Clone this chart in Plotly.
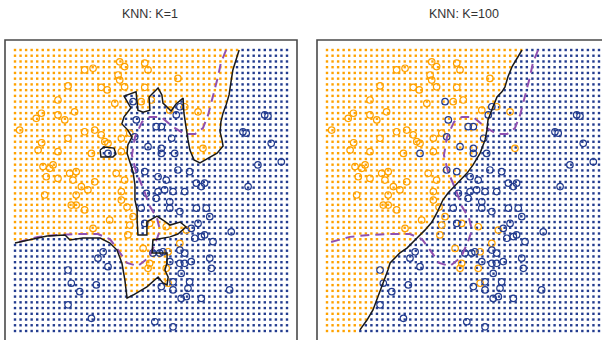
import numpy as np
import plotly.graph_objects as go

# ---------------- data (X1, X2 in arbitrary 0..10 units) ----------------
# evaluation grid of the classifiers (50 x 50 points)
grid_ticks = np.linspace(0, 10, 50)

orange_x1 = [3.85, 4.77, 2.56, 2.87, 4.03, 4.89, 3.79, 3.85, 5.99, 1.95, 3.17, 3.39, 4.03, 4.77,
             1.58, 3.67, 4.64, 5.01, 6.24, 5.69, 2.19, 0.97, 1.58, 0.78, 1.83, 0.17, 2.56, 2.93,
             3.17, 1.95, 3.30, 3.42, 3.91, 0.85, 0.98, 1.58, 2.81, 3.91, 1.03, 1.28, 1.40, 2.01,
             2.25, 3.72, 1.15, 1.58, 2.13, 2.93, 4.03, 2.44, 2.68, 3.91, 1.09, 2.25, 3.91, 2.07,
             2.25, 2.56, 3.48, 4.34, 6.91, 5.56, 6.73, 4.22, 2.87, 4.15, 4.22, 4.95, 6.30, 6.06,
             4.71, 5.63, 4.95, 4.89, 5.56, 5.63, 4.12]
orange_x2 = [9.58, 9.53, 9.29, 9.35, 9.41, 9.29, 9.11, 8.93, 8.99, 8.72, 8.67, 8.58, 8.69, 8.67,
             8.22, 8.10, 8.16, 8.22, 7.98, 7.86, 7.80, 7.75, 7.69, 7.57, 7.51, 7.15, 7.09, 7.15,
             6.98, 6.86, 6.74, 6.68, 6.86, 6.44, 6.70, 6.38, 6.32, 6.38, 5.85, 5.79, 5.91, 5.61,
             5.67, 5.61, 5.49, 5.43, 5.37, 5.31, 5.37, 5.14, 5.02, 4.96, 4.84, 4.84, 4.66, 4.48,
             4.48, 4.31, 3.95, 4.07, 6.50, 3.71, 7.80, 7.04, 3.65, 3.42, 3.77, 3.83, 3.59, 3.12,
             2.94, 2.82, 2.41, 2.23, 2.23, 1.70, 4.41]

blue_x1 = [4.34, 6.06, 5.93, 9.18, 9.30, 4.46, 5.19, 5.38, 4.40, 4.89, 5.38, 5.38, 5.87, 3.42,
           4.40, 4.77, 5.26, 5.56, 5.99, 6.42, 6.67, 6.85, 6.97, 4.83, 5.26, 5.50, 5.81, 6.24,
           5.19, 5.69, 4.64, 5.69, 6.06, 6.67, 7.03, 7.16, 8.38, 8.50, 9.42, 8.93, 9.79, 8.57,
           4.77, 6.73, 6.48, 7.95, 6.61, 6.85, 6.97, 7.28, 3.24, 3.05, 5.07, 5.32, 5.44, 6.06,
           6.24, 5.69, 6.06, 6.24, 6.48, 7.16, 7.22, 3.42, 1.95, 6.11, 6.42, 5.81, 5.38, 5.81,
           6.36, 2.07, 2.99, 2.38, 7.89, 6.11, 6.30, 6.85, 1.95, 2.81, 5.14, 5.81, 5.76]
blue_x2 = [8.16, 7.98, 7.69, 7.69, 7.65, 7.51, 7.27, 7.27, 6.91, 6.56, 6.50, 6.32, 6.32, 6.32,
           5.73, 5.67, 5.49, 5.37, 5.73, 5.67, 5.26, 5.14, 5.26, 4.90, 4.96, 5.02, 4.96, 4.96,
           4.72, 4.60, 4.37, 4.37, 4.25, 4.37, 4.37, 4.07, 7.09, 7.04, 6.68, 5.91, 6.02, 5.14,
           3.83, 3.83, 3.65, 3.53, 3.30, 3.36, 3.42, 3.18, 2.82, 2.59, 2.77, 2.77, 2.82, 2.88,
           2.77, 2.47, 2.41, 2.41, 2.47, 2.59, 2.23, 2.29, 2.17, 2.05, 1.75, 1.75, 1.58, 1.46,
           1.52, 1.70, 1.64, 1.40, 1.46, 1.16, 1.22, 1.16, 0.93, 0.45, 0.33, 0.15, 6.86]

# KNN K=1 decision boundary (from top edge to left edge)
knn1_x1 = [8.24, 8.13, 8.01, 7.94, 7.87, 7.76, 7.65, 7.57, 7.54, 7.61, 7.65, 7.43, 7.13, 6.80,
           6.58, 6.43, 6.36, 6.32, 6.25, 6.21, 6.18, 5.92, 5.74, 5.44, 5.40, 5.26, 4.93, 4.96,
           4.71, 4.52, 4.45, 4.01, 4.26, 4.01, 3.93, 4.15, 4.30, 4.15, 4.12, 4.23, 4.34, 4.41,
           4.41, 4.49, 4.49, 4.52, 4.85, 4.85, 5.22, 5.44, 5.70, 6.07, 6.29, 5.99, 5.70, 5.07,
           5.04, 5.59, 5.59, 5.51, 5.63, 5.59, 5.44, 5.26, 4.85, 4.34, 4.12, 4.04, 3.93, 3.75,
           3.49, 3.13, 2.50, 2.02, 1.84, 1.18, 0.55, 0.00]
knn1_x2 = [10.0, 9.64, 9.29, 8.86, 8.40, 8.04, 7.76, 7.44, 7.08, 6.80, 6.58, 6.33, 6.16, 5.98,
           6.09, 6.44, 6.80, 7.08, 7.44, 7.76, 8.29, 8.08, 7.83, 8.11, 8.40, 8.65, 8.33, 7.86,
           7.79, 7.86, 8.51, 8.36, 7.94, 7.62, 7.37, 7.15, 6.90, 6.62, 6.33, 6.01, 5.66, 5.20,
           4.66, 4.31, 3.95, 3.42, 3.42, 3.88, 4.09, 3.95, 3.77, 3.88, 3.70, 3.45, 3.35, 3.24,
           2.78, 2.78, 2.42, 2.17, 1.92, 1.64, 1.71, 1.92, 1.57, 1.28, 1.17, 1.81, 2.42, 2.88,
           3.13, 3.31, 3.31, 3.24, 3.42, 3.38, 3.24, 3.13]
# small closed K=1 blue island
island_x1 = [3.13, 3.27, 3.64, 3.71, 3.60, 3.16, 3.13]
island_x2 = [6.44, 6.55, 6.51, 6.30, 6.19, 6.19, 6.44]

# KNN K=100 decision boundary (top edge to bottom edge)
knn100_x1 = [7.17, 6.99, 6.80, 6.65, 6.54, 6.43, 6.25, 6.10, 5.99, 5.92, 5.88, 5.81, 5.63, 5.37,
             5.15, 4.89, 4.63, 4.45, 4.26, 4.15, 4.04, 3.86, 3.60, 3.31, 2.94, 2.68, 2.32, 2.24,
             2.06, 1.88, 1.69, 1.47, 1.21]
knn100_x2 = [10.0, 9.72, 9.40, 9.04, 8.68, 8.51, 8.33, 7.97, 7.69, 7.51, 7.15, 6.80, 6.33, 5.91,
             5.62, 5.37, 5.12, 4.91, 4.66, 4.41, 4.20, 3.88, 3.59, 3.31, 2.95, 2.78, 2.42, 2.17,
             1.71, 1.21, 0.75, 0.39, 0.04]

# Bayes decision boundary
bayes_x1 = [7.76, 7.57, 7.46, 7.28, 7.10, 6.91, 6.62, 6.25, 5.81, 5.37, 4.96, 4.67, 4.41, 4.30,
            4.45, 4.74, 4.93, 5.22, 5.33, 5.18, 4.93, 4.52, 4.12, 3.79, 3.49, 3.05, 2.32, 1.58,
            0.85, 0.00]
bayes_x2 = [10.0, 9.54, 9.04, 8.33, 7.69, 7.22, 7.01, 7.01, 7.26, 7.62, 7.62, 7.44, 6.90, 6.26,
            5.66, 5.02, 4.48, 4.02, 3.59, 3.17, 2.63, 2.31, 2.42, 2.88, 3.27, 3.45, 3.45, 3.42,
            3.35, 3.13]

titles = ["KNN: K=1", "KNN: K=100"]

ORANGE = "#FFA200"
BLUE = "#233C8F"
PURPLE = "#9050B0"


def inside(px, py, vx, vy):
    vx = np.asarray(vx, float)
    vy = np.asarray(vy, float)
    res = np.zeros(px.shape, bool)
    j = len(vx) - 1
    for i in range(len(vx)):
        dy = vy[j] - vy[i]
        dy = dy if dy != 0 else 1e-12
        cond = ((vy[i] > py) != (vy[j] > py)) & (px < (vx[j] - vx[i]) * (py - vy[i]) / dy + vx[i])
        res ^= cond
        j = i
    return res


gx, gy = np.meshgrid(grid_ticks, grid_ticks)
gx = gx.ravel()
gy = gy.ravel()

# orange region polygons
poly1_x = [knn1_x1[0]] + knn1_x1 + [-1.0, -1.0]
poly1_y = [11.0] + knn1_x2 + [knn1_x2[-1], 11.0]
orange1 = inside(gx, gy, poly1_x, poly1_y) & ~inside(gx, gy, island_x1, island_x2)

poly2_x = [knn100_x1[0]] + knn100_x1 + [knn100_x1[-1], -1.0, -1.0]
poly2_y = [11.0] + knn100_x2 + [-1.0, -1.0, 11.0]
orange2 = inside(gx, gy, poly2_x, poly2_y)

W, H = 602, 340
fig = go.Figure()

panels = [
    dict(xa="x", ya="y", mask=orange1, lines=[(knn1_x1, knn1_x2), (island_x1, island_x2)]),
    dict(xa="x2", ya="y2", mask=orange2, lines=[(knn100_x1, knn100_x2)]),
]

for p in panels:
    m = p["mask"]
    fig.add_trace(go.Scatter(x=gx[m], y=gy[m], mode="markers", xaxis=p["xa"], yaxis=p["ya"],
                             marker=dict(symbol="square", size=2.4, color=ORANGE, line=dict(width=0)),
                             showlegend=False, hoverinfo="skip"))
    fig.add_trace(go.Scatter(x=gx[~m], y=gy[~m], mode="markers", xaxis=p["xa"], yaxis=p["ya"],
                             marker=dict(symbol="square", size=2.4, color=BLUE, line=dict(width=0)),
                             showlegend=False, hoverinfo="skip"))
    fig.add_trace(go.Scatter(x=orange_x1, y=orange_x2, mode="markers", xaxis=p["xa"], yaxis=p["ya"],
                             marker=dict(symbol="circle-open", size=6.5, color=ORANGE, line=dict(width=1.2)),
                             showlegend=False))
    fig.add_trace(go.Scatter(x=blue_x1, y=blue_x2, mode="markers", xaxis=p["xa"], yaxis=p["ya"],
                             marker=dict(symbol="circle-open", size=6.5, color=BLUE, line=dict(width=1.2)),
                             showlegend=False))
    fig.add_trace(go.Scatter(x=bayes_x1, y=bayes_x2, mode="lines", xaxis=p["xa"], yaxis=p["ya"],
                             line=dict(color=PURPLE, width=2, dash="9px,6px"), showlegend=False))
    for lx, ly in p["lines"]:
        fig.add_trace(go.Scatter(x=lx, y=ly, mode="lines", xaxis=p["xa"], yaxis=p["ya"],
                                 line=dict(color="#1a1a1a", width=1.5), showlegend=False))

# layout in pixels
top = 40
xpix = lambda v: (v - 15) / 27.2
ypix = lambda v: (331 - v) / 28.1
ax_common = dict(visible=False, showgrid=False, zeroline=False, fixedrange=True)
fig.update_layout(
    width=W, height=H, margin=dict(l=0, r=0, t=0, b=0),
    paper_bgcolor="white", plot_bgcolor="white", showlegend=False,
    xaxis=dict(domain=[5 / W, 297 / W], range=[xpix(5), xpix(297)], **ax_common),
    yaxis=dict(domain=[0, 1 - top / H], range=[ypix(340), ypix(top)], **ax_common),
    xaxis2=dict(domain=[317 / W, 1], range=[(317 - 327) / 27.2, (602 - 327) / 27.2], **ax_common),
    yaxis2=dict(domain=[0, 1 - top / H], range=[ypix(340), ypix(top)], **ax_common),
    shapes=[
        dict(type="rect", xref="paper", yref="paper", x0=5 / W, x1=297 / W, y0=-0.05, y1=1 - top / H,
             line=dict(color="#4a4a4a", width=1.6)),
        dict(type="rect", xref="paper", yref="paper", x0=317 / W, x1=1.05, y0=-0.05, y1=1 - top / H,
             line=dict(color="#4a4a4a", width=1.6)),
    ],
    annotations=[
        dict(text=titles[0], x=150 / W, y=1 - 14.5 / H, xref="paper", yref="paper", showarrow=False,
             xanchor="center", yanchor="middle",
             font=dict(family="Liberation Sans, Arial, sans-serif", size=12.5, color="#333")),
        dict(text=titles[1], x=464 / W, y=1 - 14.5 / H, xref="paper", yref="paper", showarrow=False,
             xanchor="center", yanchor="middle",
             font=dict(family="Liberation Sans, Arial, sans-serif", size=12.5, color="#333")),
    ],
)

fig.write_html("out.html", config={"displayModeBar": False},
               post_script="document.body.style.margin='0px';document.body.style.overflow='hidden';")
